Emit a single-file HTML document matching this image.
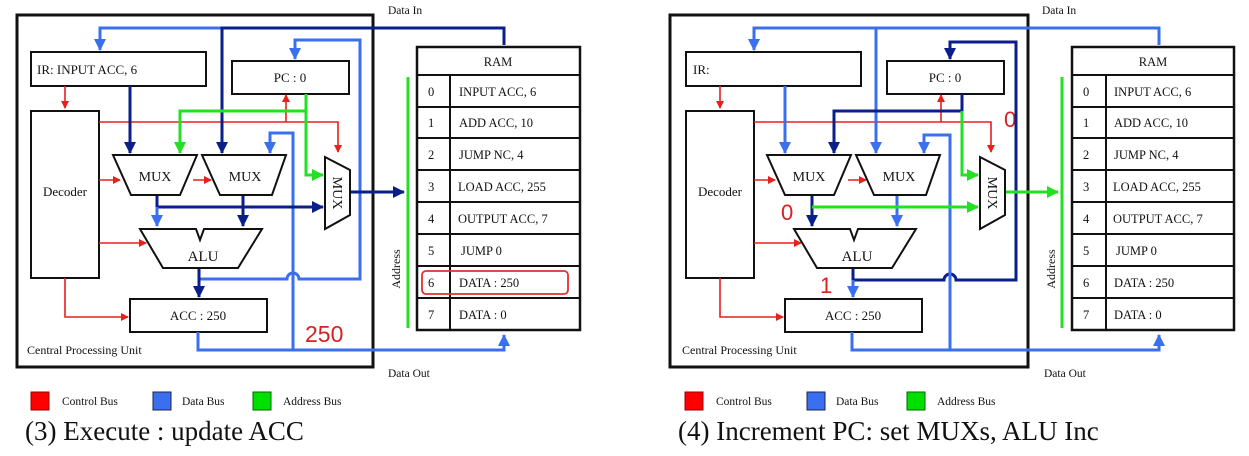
<!DOCTYPE html>
<html><head><meta charset="utf-8"><style>
html,body{margin:0;padding:0;background:#fff;}
svg{display:block;}
text{font-family:"Liberation Serif",serif;fill:#111;}
</style></head><body>
<svg width="1249" height="456" viewBox="0 0 1249 456" xmlns="http://www.w3.org/2000/svg">
<defs>
<marker id="ar" markerWidth="8" markerHeight="8" refX="7" refY="4" orient="auto" markerUnits="userSpaceOnUse"><path d="M0,0 L8,4 L0,8z" fill="#e8201c"/></marker>
<marker id="ab" markerWidth="12" markerHeight="12" refX="11" refY="6" orient="auto" markerUnits="userSpaceOnUse"><path d="M0,0 L12,6 L0,12z" fill="#3a6ff0"/></marker>
<marker id="an" markerWidth="12" markerHeight="12" refX="11" refY="6" orient="auto" markerUnits="userSpaceOnUse"><path d="M0,0 L12,6 L0,12z" fill="#0b1f8a"/></marker>
<marker id="ag" markerWidth="12" markerHeight="12" refX="11" refY="6" orient="auto" markerUnits="userSpaceOnUse"><path d="M0,0 L12,6 L0,12z" fill="#22e022"/></marker>
</defs>

<!-- ================= LEFT PANEL ================= -->
<g>
<rect x="17" y="15" width="356" height="352" fill="none" stroke="#111" stroke-width="3"/>
<text x="388" y="14" font-size="11.5">Data In</text>
<text x="388" y="377" font-size="11.5">Data Out</text>
<rect x="31" y="52" width="175" height="34" fill="#fff" stroke="#111" stroke-width="2"/>
<text x="37" y="74" font-size="13">IR: INPUT ACC, 6</text>
<rect x="232" y="61" width="117" height="33" fill="#fff" stroke="#111" stroke-width="2"/>
<text x="290" y="82" font-size="13" text-anchor="middle">PC : 0</text>
<rect x="31" y="111" width="68" height="167" fill="#fff" stroke="#111" stroke-width="2"/>
<text x="65" y="196" font-size="13" text-anchor="middle">Decoder</text>
<rect x="130" y="299" width="137" height="33" fill="#fff" stroke="#111" stroke-width="2"/>
<text x="198" y="320" font-size="13" text-anchor="middle">ACC : 250</text>
<text x="27" y="354" font-size="12">Central Processing Unit</text>
<text x="305" y="342" font-size="23" style="font-family:'Liberation Sans',sans-serif;fill:#d82020">250</text>
<g fill="none" stroke="#e8201c" stroke-width="1.6">
<path d="M65 86 V108" marker-end="url(#ar)"/>
<path d="M99 122 H338 V152" marker-end="url(#ar)"/>
<path d="M286 122 V95" marker-end="url(#ar)"/>
<path d="M99 180 H120" marker-end="url(#ar)"/>
<path d="M193 180 H211" marker-end="url(#ar)"/>
<path d="M99 243 H146" marker-end="url(#ar)"/>
<path d="M65 278 V317 H128" marker-end="url(#ar)"/>
</g>
<g fill="none" stroke-width="3">
<path d="M223 28 H100 V50" stroke="#3a6ff0" marker-end="url(#ab)"/>
<path d="M504 45 V28 H222 V153" stroke="#0b1f8a" marker-end="url(#an)"/>
<path d="M130 86 V153" stroke="#0b1f8a" marker-end="url(#an)"/>
<path d="M200 279 H287 A6 6 0 0 1 299 279 H360 V40 H295 V59" stroke="#3a6ff0" marker-end="url(#ab)"/>
<path d="M293 350 V133 H270 V153" stroke="#3a6ff0" marker-end="url(#ab)"/>
<path d="M198 332 V350 H504 V335" stroke="#3a6ff0" marker-end="url(#ab)"/>
<path d="M157 195 V207 H323" stroke="#0b1f8a" marker-end="url(#an)"/>
<path d="M157 207 V226" stroke="#3a6ff0" marker-end="url(#ab)"/>
<path d="M243 195 V226" stroke="#0b1f8a" marker-end="url(#an)"/>
<path d="M199 268 V297" stroke="#0b1f8a" marker-end="url(#an)"/>
<path d="M350 192 H404" stroke="#0b1f8a" marker-end="url(#an)"/>
</g>
<g fill="none" stroke="#22e022" stroke-width="3">
<path d="M306 94 V111 H180 V153" marker-end="url(#ag)"/>
<path d="M306 111 V175 H323" marker-end="url(#ag)"/>
<path d="M408 77 V328"/>
</g>
<polygon points="113,155 197,155 180,195 131,195" fill="#fff" stroke="#111" stroke-width="2"/>
<text x="155" y="181" font-size="14" text-anchor="middle">MUX</text>
<polygon points="202,155 286,155 272,195 220,195" fill="#fff" stroke="#111" stroke-width="2"/>
<text x="245" y="181" font-size="14" text-anchor="middle">MUX</text>
<polygon points="325,157 350,170 350,215 325,229" fill="#fff" stroke="#111" stroke-width="2"/>
<text x="0" y="0" font-size="14" text-anchor="middle" transform="translate(333,193) rotate(90)">MUX</text>
<polygon points="140,229 196,229 200,240 204,229 262,229 238,268 163,268" fill="#fff" stroke="#111" stroke-width="2"/>
<text x="203" y="261" font-size="15" text-anchor="middle">ALU</text>
<text x="0" y="0" font-size="12" text-anchor="middle" transform="translate(400,269) rotate(-90)">Address</text>
<rect x="417" y="47" width="163" height="283" fill="#fff" stroke="#111" stroke-width="2.5"/>
<g stroke="#111" stroke-width="2">
<line x1="417" y1="75" x2="580" y2="75"/><line x1="417" y1="107" x2="580" y2="107"/><line x1="417" y1="138" x2="580" y2="138"/><line x1="417" y1="170" x2="580" y2="170"/><line x1="417" y1="202" x2="580" y2="202"/><line x1="417" y1="234" x2="580" y2="234"/><line x1="417" y1="266" x2="580" y2="266"/><line x1="417" y1="298" x2="580" y2="298"/><line x1="450" y1="75" x2="450" y2="330"/>
</g>
<g font-size="12.5">
<text x="498" y="66" text-anchor="middle">RAM</text>
<text x="428" y="96">0</text><text x="459" y="96">INPUT ACC, 6</text>
<text x="428" y="127">1</text><text x="459" y="127">ADD ACC, 10</text>
<text x="428" y="159">2</text><text x="459" y="159">JUMP NC, 4</text>
<text x="428" y="191">3</text><text x="458" y="191">LOAD ACC, 255</text>
<text x="428" y="223">4</text><text x="458" y="223">OUTPUT ACC, 7</text>
<text x="428" y="255">5</text><text x="461" y="255">JUMP 0</text>
<text x="428" y="287">6</text><text x="459" y="287">DATA : 250</text>
<text x="428" y="319">7</text><text x="459" y="319">DATA : 0</text>
</g>
<rect x="422" y="271" width="146" height="23" rx="4" fill="none" stroke="#e03030" stroke-width="1.8"/>
<rect x="31" y="392" width="18" height="18" fill="#f00" stroke="#900"/>
<text x="62" y="405" font-size="11.5">Control Bus</text>
<rect x="153" y="392" width="18" height="18" fill="#3a6ff0" stroke="#224"/>
<text x="182" y="405" font-size="11.5">Data Bus</text>
<rect x="253" y="392" width="18" height="18" fill="#00e000" stroke="#060"/>
<text x="283" y="405" font-size="11.5">Address Bus</text>
<text x="25" y="440" font-size="27" fill="#333">(3) Execute : update ACC</text>
</g>

<!-- ================= RIGHT PANEL ================= -->
<g transform="translate(654,0)">
<rect x="16" y="15" width="358" height="352" fill="none" stroke="#111" stroke-width="3"/>
<text x="388" y="14" font-size="11.5">Data In</text>
<text x="390" y="377" font-size="11.5">Data Out</text>
<rect x="32" y="52" width="175" height="34" fill="#fff" stroke="#111" stroke-width="2"/>
<text x="39" y="74" font-size="13">IR:</text>
<rect x="233" y="61" width="117" height="33" fill="#fff" stroke="#111" stroke-width="2"/>
<text x="291" y="82" font-size="13" text-anchor="middle">PC : 0</text>
<rect x="32" y="111" width="68" height="167" fill="#fff" stroke="#111" stroke-width="2"/>
<text x="66" y="196" font-size="13" text-anchor="middle">Decoder</text>
<rect x="131" y="299" width="137" height="33" fill="#fff" stroke="#111" stroke-width="2"/>
<text x="199" y="320" font-size="13" text-anchor="middle">ACC : 250</text>
<text x="28" y="354" font-size="12">Central Processing Unit</text>
<text x="350" y="127" font-size="22" style="fill:#d82020;font-family:'Liberation Sans',sans-serif">0</text>
<text x="127" y="220" font-size="22" style="fill:#d82020;font-family:'Liberation Sans',sans-serif">0</text>
<text x="166" y="293" font-size="22" style="fill:#d82020;font-family:'Liberation Sans',sans-serif">1</text>
<g fill="none" stroke="#e8201c" stroke-width="1.6">
<path d="M66 86 V108" marker-end="url(#ar)"/>
<path d="M100 122 H337 V152" marker-end="url(#ar)"/>
<path d="M287 122 V95" marker-end="url(#ar)"/>
<path d="M100 180 H121" marker-end="url(#ar)"/>
<path d="M194 180 H212" marker-end="url(#ar)"/>
<path d="M100 243 H147" marker-end="url(#ar)"/>
<path d="M66 278 V317 H129" marker-end="url(#ar)"/>
</g>
<g fill="none" stroke-width="3">
<path d="M505 45 V28 H100 V50" stroke="#3a6ff0" marker-end="url(#ab)"/>
<path d="M222 28 V153" stroke="#3a6ff0" marker-end="url(#ab)"/>
<path d="M131 86 V153" stroke="#3a6ff0" marker-end="url(#ab)"/>
<path d="M199 280 H290 A6 6 0 0 1 302 280 H362 V42 H296 V59" stroke="#0b1f8a" marker-end="url(#an)"/>
<path d="M296 350 V135 H270 V153" stroke="#3a6ff0" marker-end="url(#ab)"/>
<path d="M198 332 V350 H505 V335" stroke="#3a6ff0" marker-end="url(#ab)"/>
<path d="M308 94 V111 H180 V153" stroke="#0b1f8a" marker-end="url(#an)"/>
<path d="M158 195 V226" stroke="#0b1f8a" marker-end="url(#an)"/>
<path d="M243 195 V226" stroke="#3a6ff0" marker-end="url(#ab)"/>
<path d="M199 280 V297" stroke="#3a6ff0" marker-end="url(#ab)"/>
<path d="M199 268 V280" stroke="#0b1f8a"/>
</g>
<g fill="none" stroke="#22e022" stroke-width="3">
<path d="M308 111 V175 H324" marker-end="url(#ag)"/>
<path d="M158 207 H324" marker-end="url(#ag)"/>
<path d="M351 192 H404" marker-end="url(#ag)"/>
<path d="M408 77 V328"/>
</g>
<polygon points="113,155 197,155 180,195 131,195" fill="#fff" stroke="#111" stroke-width="2"/>
<text x="155" y="181" font-size="14" text-anchor="middle">MUX</text>
<polygon points="202,155 286,155 272,195 220,195" fill="#fff" stroke="#111" stroke-width="2"/>
<text x="245" y="181" font-size="14" text-anchor="middle">MUX</text>
<polygon points="326,157 351,170 351,215 326,229" fill="#fff" stroke="#111" stroke-width="2"/>
<text x="0" y="0" font-size="14" text-anchor="middle" transform="translate(334,193) rotate(90)">MUX</text>
<polygon points="140,229 196,229 200,240 204,229 262,229 238,268 163,268" fill="#fff" stroke="#111" stroke-width="2"/>
<text x="203" y="261" font-size="15" text-anchor="middle">ALU</text>
<text x="0" y="0" font-size="12" text-anchor="middle" transform="translate(401,269) rotate(-90)">Address</text>
<rect x="418" y="47" width="162" height="283" fill="#fff" stroke="#111" stroke-width="2.5"/>
<g stroke="#111" stroke-width="2">
<line x1="418" y1="75" x2="580" y2="75"/><line x1="418" y1="107" x2="580" y2="107"/><line x1="418" y1="138" x2="580" y2="138"/><line x1="418" y1="170" x2="580" y2="170"/><line x1="418" y1="202" x2="580" y2="202"/><line x1="418" y1="234" x2="580" y2="234"/><line x1="418" y1="266" x2="580" y2="266"/><line x1="418" y1="298" x2="580" y2="298"/><line x1="452" y1="75" x2="452" y2="330"/>
</g>
<g font-size="12.5">
<text x="499" y="66" text-anchor="middle">RAM</text>
<text x="429" y="96">0</text><text x="460" y="96">INPUT ACC, 6</text>
<text x="429" y="127">1</text><text x="460" y="127">ADD ACC, 10</text>
<text x="429" y="159">2</text><text x="460" y="159">JUMP NC, 4</text>
<text x="429" y="191">3</text><text x="459" y="191">LOAD ACC, 255</text>
<text x="429" y="223">4</text><text x="459" y="223">OUTPUT ACC, 7</text>
<text x="429" y="255">5</text><text x="462" y="255">JUMP 0</text>
<text x="429" y="287">6</text><text x="460" y="287">DATA : 250</text>
<text x="429" y="319">7</text><text x="460" y="319">DATA : 0</text>
</g>
<rect x="31" y="392" width="18" height="18" fill="#f00" stroke="#900"/>
<text x="62" y="405" font-size="11.5">Control Bus</text>
<rect x="153" y="392" width="18" height="18" fill="#3a6ff0" stroke="#224"/>
<text x="182" y="405" font-size="11.5">Data Bus</text>
<rect x="253" y="392" width="18" height="18" fill="#00e000" stroke="#060"/>
<text x="283" y="405" font-size="11.5">Address Bus</text>
<text x="24" y="440" font-size="27" fill="#333">(4) Increment PC: set MUXs, ALU Inc</text>
</g>
</svg>
</body></html>
